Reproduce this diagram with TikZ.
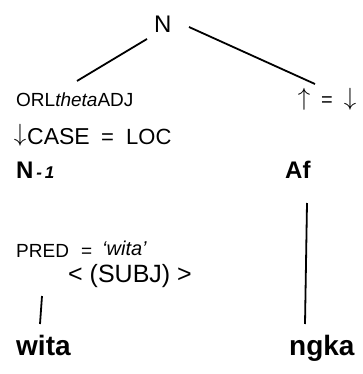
\documentclass[tikz,border=0pt]{standalone}
\usepackage{fontspec}
\setmainfont{Liberation Sans}
\begin{document}
\begin{tikzpicture}[x=1pt,y=-1pt,
  lbl/.style={inner sep=0pt,anchor=base west},
  ctr/.style={inner sep=0pt,anchor=center},
  edge/.style={line width=1.8pt}]
\useasboundingbox (0,0) rectangle (362,374);
% top
\node[lbl,font=\fontsize{24}{24}\selectfont] (N) at (154,33) {N};
% left daughter annotations
\node[lbl,font=\fontsize{19}{20}\selectfont] (orl) at (16,107) {ORL\textit{theta}ADJ};
\node[ctr,font=\fontsize{26}{26}\selectfont] (dnA) at (20,135) {$\downarrow$};
\node[lbl,font=\fontsize{23}{24}\selectfont] (case) at (27,144) {CASE};
\node[lbl,font=\fontsize{22}{22}\selectfont] (eqA) at (101,144) {=};
\node[lbl,font=\fontsize{22}{22}\selectfont] (loc) at (126,144) {LOC};
\node[lbl,font=\fontsize{24}{24}\selectfont\bfseries] (n1) at (16,178) {N\fontsize{17}{17}\selectfont\itshape\,-\,1};
\node[lbl,font=\fontsize{19}{20}\selectfont] (pred) at (16,257) {PRED};
\node[lbl,font=\fontsize{19}{20}\selectfont] (eqB) at (81,257) {=};
\node[lbl,font=\fontsize{20}{20}\selectfont\itshape] (wq) at (102,255) {`wita'};
\node[lbl,font=\fontsize{25}{25}\selectfont] (subj) at (68,282) {< (SUBJ) >};
\node[lbl,font=\fontsize{28}{28}\selectfont\bfseries] (wita) at (16,355) {wita};
% right daughter annotations
\node[ctr,font=\fontsize{26}{26}\selectfont] (upB) at (304,99) {$\uparrow$};
\node[lbl,font=\fontsize{20}{20}\selectfont] (eqC) at (321,107) {=};
\node[ctr,font=\fontsize{26}{26}\selectfont] (dnB) at (350,99) {$\downarrow$};
\node[lbl,font=\fontsize{24}{24}\selectfont\bfseries] (af) at (285,178) {Af};
\node[lbl,font=\fontsize{28}{28}\selectfont\bfseries] (ngka) at (289,355) {ngka};
% connector ends
\coordinate (nL) at (147,39);
\coordinate (orlT) at (77,81);
\coordinate (nR) at (189,27);
\coordinate (upT) at (315,84);
\coordinate (afB) at (307,203);
\coordinate (ngT) at (305,324);
\coordinate (subjB) at (42,296);
\coordinate (witaT) at (40,324);
\draw[edge] (nL) -- (orlT);
\draw[edge] (nR) -- (upT);
\draw[edge] (afB) -- (ngT);
\draw[edge] (subjB) -- (witaT);
\end{tikzpicture}
\end{document}
